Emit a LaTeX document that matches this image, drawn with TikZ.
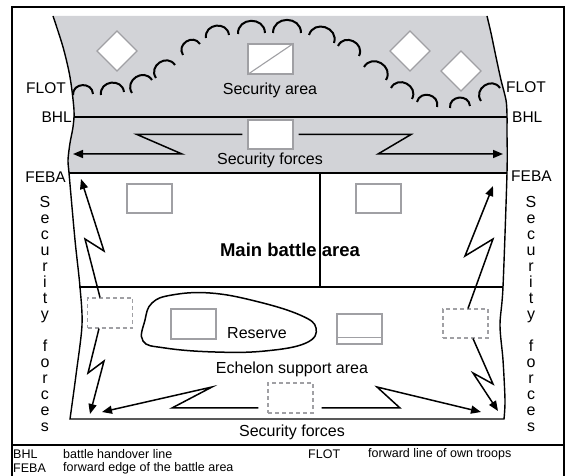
\documentclass[tikz,border=0pt]{standalone}
\usepackage{fontspec}
\setmainfont{Liberation Sans}
\usetikzlibrary{arrows.meta}
\definecolor{areagray}{RGB}{210,211,215}
\definecolor{boxgray}{RGB}{160,160,164}
\begin{document}
\begin{tikzpicture}[x=1pt,y=-1pt,
  bnd/.style={line width=1.4pt},
  unitbox/.style={draw=boxgray, fill=white, line width=1.3pt, minimum width=45pt, minimum height=30pt, inner sep=0pt},
  dbox/.style={draw=boxgray, dash pattern=on 4pt off 3pt, line width=1.1pt, minimum width=45pt, minimum height=30pt, inner sep=0pt},
  zz/.style={line width=1.5pt, -{Triangle[length=10pt,width=8pt]}, line join=miter},
  scallop/.style={line width=2pt},
  lbl/.style={font=\fontsize{16}{19}\selectfont, inner sep=0pt},
  side/.style={font=\fontsize{15.5}{18}\selectfont, inner sep=0pt},
  vert/.style={font=\fontsize{16}{16}\selectfont, inner sep=0pt, align=center},
  leg/.style={font=\fontsize{12.5}{15}\selectfont, inner sep=0pt, anchor=west},
]
\useasboundingbox (0,0) rectangle (566,476);
% gray security zone
\begin{scope}
\clip (0,0) rectangle (566,173);
\fill[areagray] plot[smooth,tension=0.5] coordinates{(53,16) (63,47) (70,77) (74,110) (73,127) (70,143) (68,160) (69,173) (75,240) (80,287) (82,325) (76,375) (70,419)}
  -- plot[smooth,tension=0.5] coordinates{(504,419) (505,400) (503,360) (500,325) (503,287) (507,173) (507,133) (507,115) (506,100) (501,80) (496,57) (491,33) (487,16)} -- cycle;
\end{scope}
% outline
\draw[bnd] plot[smooth,tension=0.5] coordinates{(53,16) (63,47) (70,77) (74,110) (73,127) (70,143) (68,160) (69,173) (75,240) (80,287) (82,325) (76,375) (70,419)}
  -- plot[smooth,tension=0.5] coordinates{(504,419) (505,400) (503,360) (500,325) (503,287) (507,173) (507,133) (507,115) (506,100) (501,80) (496,57) (491,33) (487,16)};
% lines
\draw[line width=1.3pt] (74,117) -- (507,117);
\draw[line width=1.5pt] (68.5,173) -- (507,173);
\draw[line width=1.3pt] (79,287) -- (503,287);
\draw[line width=1.3pt] (320,173) -- (320,287);
% frame
\draw[line width=1.2pt] (12,478) -- (12,7) -- (564,7) -- (564,478);
\draw[line width=1.2pt] (12,445) -- (564,445);
% FLOT scallops
\foreach \ax/\ay/\bx/\by in {73/95/93/94, 101/95/124/92, 132/93/152/80, 156/78/175/65, 183/55/200/44, 206/38/229/35, 238/34/265/33, 273/33/301/33, 309/35/334/43, 338/46/359/56, 364/67/386/80, 391/88/412/99, 417/102/437/107, 450/108/470/106, 481/101/500/88}
  \draw[scallop] (\ax,\ay) to[bend left=90, looseness=1.6] (\bx,\by);
% diamonds
\foreach \cx/\cy/\nm in {117/51/dA, 410/51/dB, 461/71/dC}
  \draw[draw=boxgray, fill=white, line width=1.3pt] (\cx-20,\cy) -- (\cx,\cy-20) -- (\cx+20,\cy) -- (\cx,\cy+20) -- cycle;
% boxes
\node[unitbox] (sa) at (270.5,59) {};
\draw[boxgray, line width=1.1pt] (sa.south west) -- (sa.north east);
\node[unitbox, minimum height=29pt] (sf) at (270.5,134.5) {};
\node[unitbox, minimum height=29pt] (mb1) at (149.5,198.5) {};
\node[unitbox, minimum height=29pt] (mb2) at (378.5,198.5) {};
\node[unitbox] (rs) at (193.5,324) {};
\node[unitbox] (eb) at (359.5,329) {};
\draw[boxgray, line width=1.1pt] ([yshift=7pt]eb.south west) -- ([yshift=7pt]eb.south east);
\node[dbox] (dl) at (110,313) {};
\node[dbox, minimum height=29pt] (dr) at (465.5,323.5) {};
\node[dbox] (db) at (290.5,398) {};
% reserve blob
\draw[line width=1.5pt] plot[smooth cycle, tension=0.7] coordinates{(152,303) (172,295) (210,293) (255,301) (300,315) (316,328) (306,343) (265,351) (215,352) (165,348) (143,341) (145,320)};
% zigzag arrows
\coordinate (a1) at (137,134.5); \coordinate (a2) at (182,154); \coordinate (a3) at (73,154);
\draw[zz, shorten <=5pt] (sf.west) -- (a1) -- (a2) -- (a3);
\coordinate (b1) at (411,134.5); \coordinate (b2) at (378,154); \coordinate (b3) at (503,154);
\draw[zz, shorten <=5pt] (sf.east) -- (b1) -- (b2) -- (b3);
\coordinate (c1) at (85,239); \coordinate (c2) at (104,251); \coordinate (c3) at (81,179);
\draw[zz] ([xshift=-10pt]dl.north) -- (c1) -- (c2) -- (c3);
\coordinate (d1) at (493,239); \coordinate (d2) at (465,256); \coordinate (d3) at (493,186);
\draw[zz] ([xshift=2.5pt]dr.north) -- (d1) -- (d2) -- (d3);
\coordinate (e1) at (88,373); \coordinate (e2) at (104,361); \coordinate (e3) at (90,414);
\draw[zz] ([xshift=-11pt]dl.south) -- (e1) -- (e2) -- (e3);
\coordinate (f1) at (493,384); \coordinate (f2) at (473,373); \coordinate (f3) at (498,411);
\draw[zz] ([xshift=7.5pt]dr.south) -- (f1) -- (f2) -- (f3);
\coordinate (g1) at (172,408); \coordinate (g2) at (212,387); \coordinate (g3) at (102,412);
\draw[zz, shorten <=9pt] ([yshift=-10pt]db.west) -- (g1) -- (g2) -- (g3);
\coordinate (h1) at (400,408); \coordinate (h2) at (377,387); \coordinate (h3) at (481,412);
\draw[zz, shorten <=8pt] ([yshift=-10pt]db.east) -- (h1) -- (h2) -- (h3);
% texts
\node[lbl] (tsa) at (270,90) {Security area};
\node[lbl] (tsf) at (270,160) {Security forces};
\node[inner sep=0pt, font=\fontsize{18.5}{22}\selectfont\bfseries] (tmb) at (290,250) {Main battle area};
\node[lbl] (tres) at (257,333) {Reserve};
\node[lbl] (tesa) at (292,369) {Echelon support area};
\node[lbl] (tsfb) at (292,432) {Security forces};
\node[side, anchor=east] (flotL) at (66,88) {FLOT};
\node[side, anchor=east] (bhlL) at (72,117) {BHL};
\node[side, anchor=east] (febaL) at (66,177) {FEBA};
\node[side, anchor=west] (flotR) at (506,87) {FLOT};
\node[side, anchor=west] (bhlR) at (512,117) {BHL};
\node[side, anchor=west] (febaR) at (511,176) {FEBA};
\node[vert] (vL) at (45,314) {S\\e\\c\\u\\r\\i\\t\\y\\\mbox{}\\f\\o\\r\\c\\e\\s};
\node[vert] (vR) at (531,314) {S\\e\\c\\u\\r\\i\\t\\y\\\mbox{}\\f\\o\\r\\c\\e\\s};
% legend
\node[leg] (l1) at (13,454) {BHL};
\node[leg] (l2) at (63,454) {battle handover line};
\node[leg] (l3) at (13,468.5) {FEBA};
\node[leg] (l4) at (63,468.5) {forward edge of the battle area};
\node[leg] (l5) at (308,454) {FLOT};
\node[leg] (l6) at (368,454) {forward line of own troops};
\end{tikzpicture}
\end{document}
